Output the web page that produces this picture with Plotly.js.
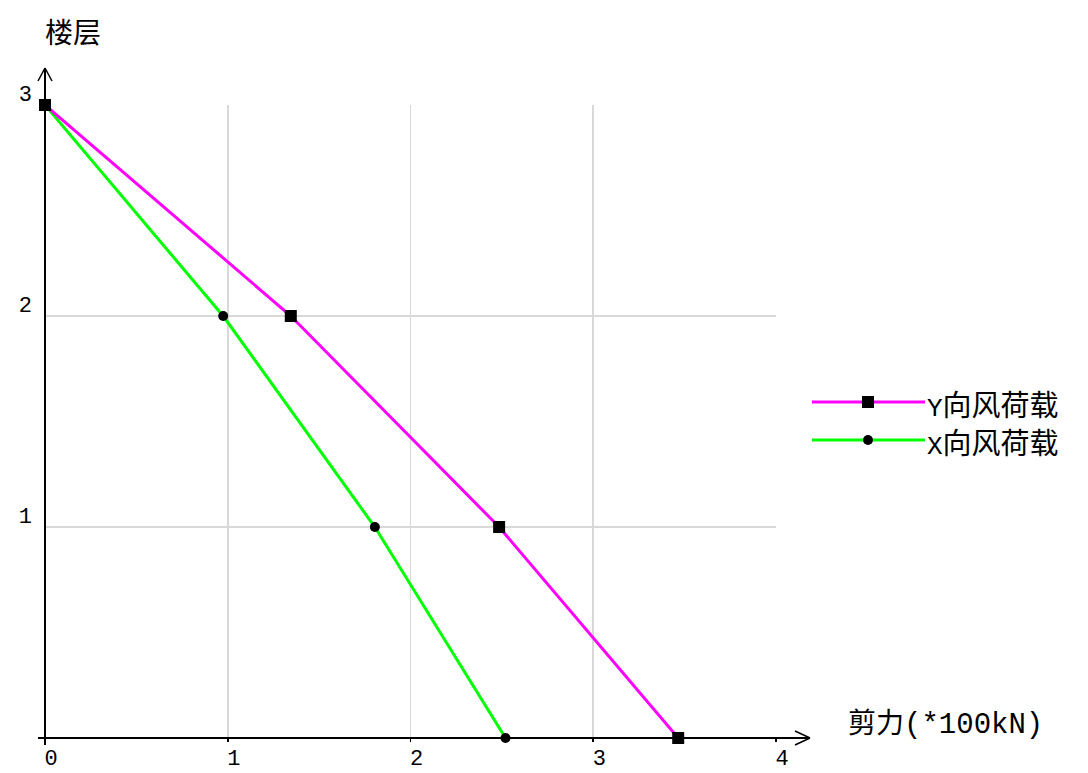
<!DOCTYPE html>
<html>
<head>
<meta charset="utf-8">
<script src="https://cdn.plot.ly/plotly-3.0.1.min.js"></script>
<style>html,body{margin:0;padding:0;background:#fff;}#chart{width:1088px;height:773px;}</style>
</head>
<body>
<div id="chart"></div>
<script>
// ---- data ----
const floors = [3, 2, 1, 0];
const shearY = [0, 1.345, 2.485, 3.465];
const shearX = [0, 0.975, 1.805, 2.52];
const seriesNames = ["Y向风荷载", "X向风荷载"];
const seriesColors = ["#ff00ff", "#00ff00"];
const xTicks = [0, 1, 2, 3, 4];
const yTicks = [1, 2, 3];
const yTitle = "楼层";
const xTitleCjk = "剪力";
const xTitleUnit = "(*100kN)";

// ---- layout helpers (pixel -> paper) ----
const L = 45, R = 776, T = 105, B = 738;
const px = v => (v - L) / (R - L);
const py = v => (B - v) / (B - T);
const latin = '"Liberation Mono", "Noto Sans CJK SC", monospace';
const cjk = '"Noto Sans CJK SC", "Liberation Mono", sans-serif';
const mono = (t, s) => '<span style="font-family:\'Liberation Mono\';font-size:' + s + 'px">' + t + '</span>';

const traces = [
  {x: shearX, y: floors, mode: 'lines+markers', name: seriesNames[1],
   line: {color: seriesColors[1], width: 3},
   marker: {symbol: 'circle', size: 10, color: '#000'}, cliponaxis: false, showlegend: false},
  {x: shearY, y: floors, mode: 'lines+markers', name: seriesNames[0],
   line: {color: seriesColors[0], width: 3},
   marker: {symbol: 'square', size: 12, color: '#000'}, cliponaxis: false, showlegend: false}
];

const line = (x0, y0, x1, y1, color, width) => ({
  type: 'line', xref: 'paper', yref: 'paper',
  x0: px(x0), y0: py(y0), x1: px(x1), y1: py(y1),
  line: {color: color, width: width}, layer: 'above'
});

const shapes = [
  // axes with arrows
  line(45, 745, 45, 68, '#000', 2),
  line(38, 81, 45, 68, '#000', 1.5),
  line(52, 81, 45, 68, '#000', 1.5),
  line(38, 738, 810, 738, '#000', 2),
  line(795, 731, 810, 738, '#000', 1.5),
  line(795, 745, 810, 738, '#000', 1.5),
  // legend lines
  line(812, 402, 925, 402, seriesColors[0], 3),
  line(812, 440, 925, 440, seriesColors[1], 3),
  // legend markers
  {type: 'rect', xref: 'paper', yref: 'paper', x0: px(862), x1: px(874), y0: py(396), y1: py(408),
   fillcolor: '#000', line: {width: 0}, layer: 'above'},
  {type: 'circle', xref: 'paper', yref: 'paper', x0: px(863), x1: px(873), y0: py(435), y1: py(445),
   fillcolor: '#000', line: {width: 0}, layer: 'above'}
];

const legendText = n => mono(n.charAt(0), 26) + n.slice(1);

const annotations = [
  {text: yTitle, xref: 'paper', yref: 'paper', x: px(43), y: py(31), xanchor: 'left', yanchor: 'middle',
   showarrow: false, font: {family: cjk, size: 28, color: '#000'}},
  {text: xTitleCjk + mono(xTitleUnit, 29), xref: 'paper', yref: 'paper', x: px(846), y: py(721), xanchor: 'left', yanchor: 'middle',
   showarrow: false, font: {family: cjk, size: 28, color: '#000'}},
  {text: legendText(seriesNames[0]), xref: 'paper', yref: 'paper', x: px(925), y: py(403), xanchor: 'left', yanchor: 'middle',
   showarrow: false, font: {family: cjk, size: 29, color: '#000'}},
  {text: legendText(seriesNames[1]), xref: 'paper', yref: 'paper', x: px(925), y: py(441), xanchor: 'left', yanchor: 'middle',
   showarrow: false, font: {family: cjk, size: 29, color: '#000'}}
];

const layout = {
  width: 1088, height: 773,
  margin: {l: L, r: 1088 - R, t: T, b: 773 - B, pad: 0},
  paper_bgcolor: '#fff', plot_bgcolor: '#fff',
  showlegend: false,
  xaxis: {range: [0, 4.0001], tickvals: xTicks, ticktext: xTicks.map(String),
          showgrid: true, gridcolor: '#d9d9d9', gridwidth: 1.5, zeroline: false, showline: false,
          ticks: 'outside', ticklen: 3, tickcolor: '#000', tickwidth: 1.5,
          ticklabelshift: 6, ticklabelstandoff: -3,
          tickfont: {family: latin, size: 22, color: '#000'}, fixedrange: true},
  yaxis: {range: [0, 3.0001], tickvals: yTicks, ticktext: yTicks.map(String),
          showgrid: true, gridcolor: '#d9d9d9', gridwidth: 1.5, zeroline: false, showline: false,
          ticks: '', ticklabelshift: -12, ticklabelstandoff: 12,
          tickfont: {family: latin, size: 22, color: '#000'}, fixedrange: true},
  shapes: shapes,
  annotations: annotations
};

Plotly.newPlot('chart', traces, layout, {displayModeBar: false, staticPlot: true});
</script>
</body>
</html>
